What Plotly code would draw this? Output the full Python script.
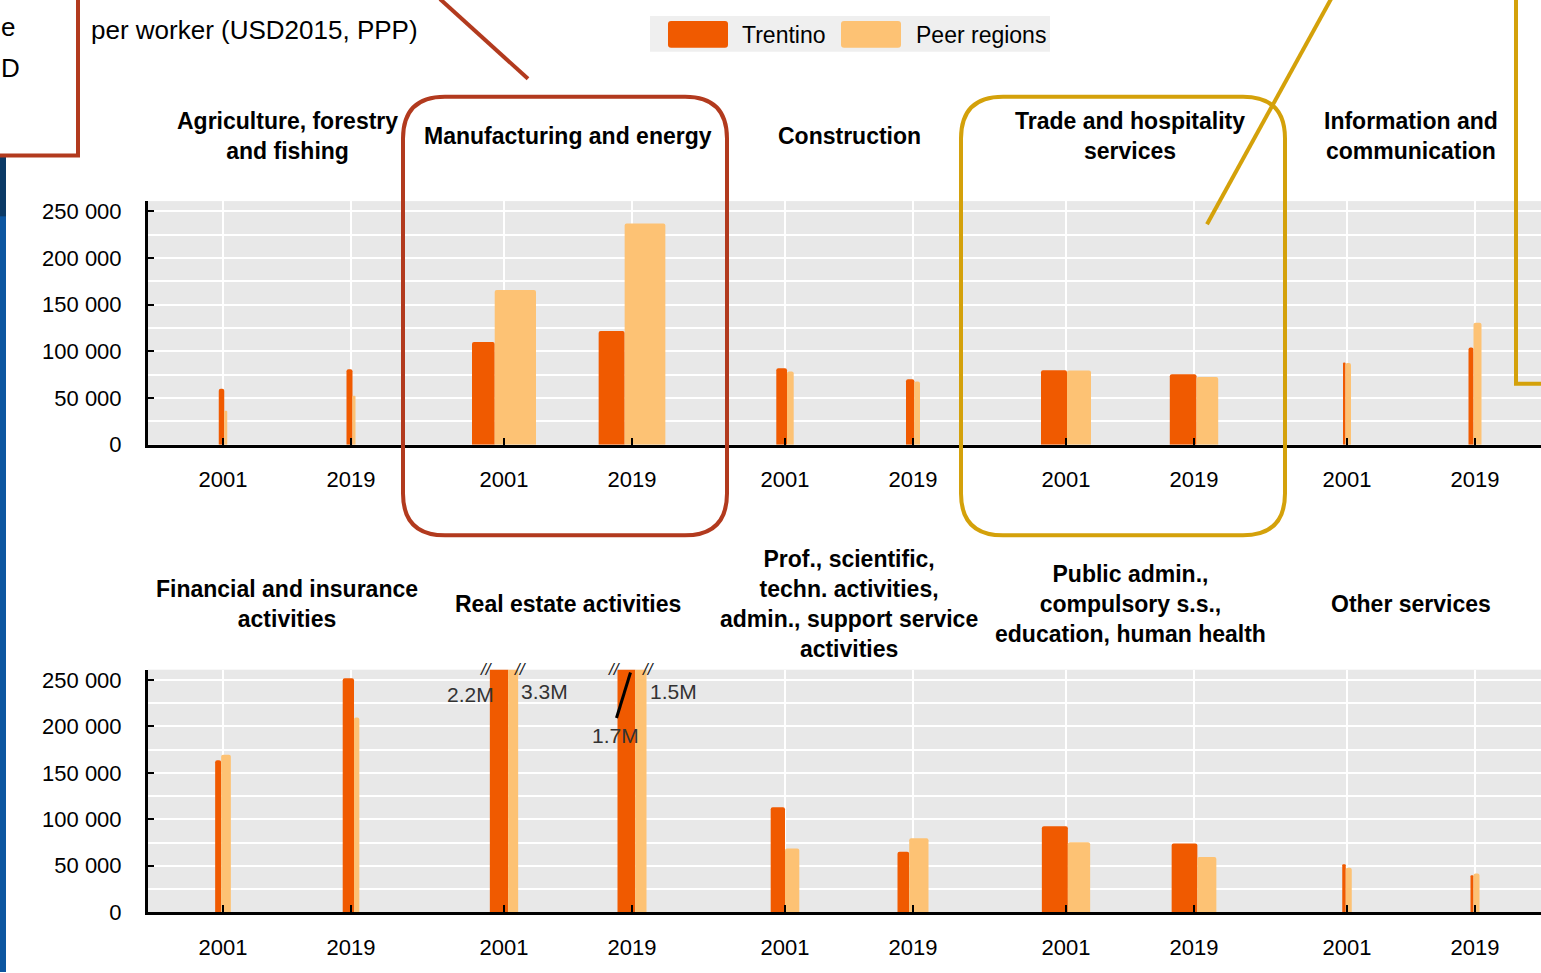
import plotly.graph_objects as go

W, H = 1541, 973          # design coordinates (reference picture)
FIG_H = 985               # page height that is captured and scaled to the 973 px picture

# ---------------- data ----------------
years = ["2001", "2019"]
sectors_top = [
    "Agriculture, forestry<br>and fishing",
    "Manufacturing and energy",
    "Construction",
    "Trade and hospitality<br>services",
    "Information and<br>communication",
]
sectors_bottom = [
    "Financial and insurance<br>activities",
    "Real estate activities",
    "Prof., scientific,<br>techn. activities,<br>admin., support service<br>activities",
    "Public admin.,<br>compulsory s.s.,<br>education, human health",
    "Other services",
]

# GVA per worker (USD2015, PPP); pairs (2001, 2019) per sector
trentino_top = [59800, 80900, 110000, 121800, 81900, 70200, 79800, 75500, 88000, 104000]
peer_top = [36300, 52300, 165600, 236900, 78300, 67700, 79500, 72600, 87500, 130700]
trentino_bottom = [163400, 251800, 2200000, 1700000, 113000, 65000, 92600, 74000, 51500, 39700]
peer_bottom = [169500, 209500, 3300000, 1500000, 68500, 79500, 75400, 59300, 47900, 41500]

# relative employment weight -> bar width
weight_trentino_top = [5.5, 6.0, 22.7, 26.0, 10.7, 8.3, 26.0, 26.7, 2.5, 5.0]
weight_peer_top = [3.0, 3.0, 41.3, 40.7, 6.7, 5.7, 24.0, 21.7, 5.5, 8.0]
weight_trentino_bottom = [6.0, 11.3, 18.3, 17.7, 14.3, 11.7, 26.0, 25.7, 3.5, 3.0]
weight_peer_bottom = [9.7, 5.3, 10.0, 11.3, 14.3, 19.3, 22.3, 19.0, 6.0, 6.0]

y_tickvals = [0, 50000, 100000, 150000, 200000, 250000]
Y_MAX = 261000

# ---------------- style ----------------
ORANGE = "#f05a00"
LIGHT = "#fdc274"
GRAY = "#e8e8e8"
RED = "#b23a1e"
GOLD = "#d4a10a"
FONT = "Liberation Sans, Arial, sans-serif"

PX_PER_UNIT = 128.0
PANEL_STEP = 281.0 / PX_PER_UNIT
X_LEFT_PX, X_TICK0_PX = 148.0, 223.0
XMIN = (X_LEFT_PX - X_TICK0_PX) / PX_PER_UNIT
XMAX = (W - X_TICK0_PX) / PX_PER_UNIT


def px(x):
    return x / W


def py(y):
    return 1 - y / H


xs = [i * PANEL_STEP + j for i in range(5) for j in range(2)]

fig = go.Figure()


def add_row(xa, ya, t_vals, p_vals, t_w, p_w):
    tw = [w / PX_PER_UNIT for w in t_w]
    pw = [w / PX_PER_UNIT for w in p_w]
    t_off = [-(a + b) / 2 for a, b in zip(tw, pw)]
    p_off = [o + a for o, a in zip(t_off, tw)]
    fig.add_trace(go.Bar(x=xs, y=t_vals, width=tw, offset=t_off, name="Trentino",
                         marker=dict(color=ORANGE, cornerradius=2, line_width=0),
                         xaxis=xa, yaxis=ya, showlegend=False))
    fig.add_trace(go.Bar(x=xs, y=p_vals, width=pw, offset=p_off, name="Peer regions",
                         marker=dict(color=LIGHT, cornerradius=2, line_width=0),
                         xaxis=xa, yaxis=ya, showlegend=False))
    return tw, pw, t_off, p_off


add_row("x", "y", trentino_top, peer_top, weight_trentino_top, weight_peer_top)
tw_b, pw_b, toff_b, poff_b = add_row("x2", "y2", trentino_bottom, peer_bottom,
                                     weight_trentino_bottom, weight_peer_bottom)

top_dom = [py(444), py(444 - Y_MAX / 250000 * 234)]
bot_dom = [py(913), py(913 - Y_MAX / 250000 * 233)]

xaxis_common = dict(
    range=[XMIN, XMAX], tickvals=xs, ticktext=years * 5,
    ticks="inside", ticklen=7, tickwidth=2, tickcolor="black",
    showline=True, linecolor="black", linewidth=3,
    showgrid=True, gridcolor="white", gridwidth=2, zeroline=False,
    tickfont=dict(family=FONT, size=22, color="black"),
    ticklabelstandoff=13, fixedrange=True,
)
yaxis_common = dict(
    range=[0, Y_MAX], tickvals=y_tickvals, tickformat=",d",
    ticks="inside", ticklen=6, tickwidth=2, tickcolor="black",
    showline=True, linecolor="black", linewidth=3,
    showgrid=True, gridcolor="white", gridwidth=2, zeroline=False,
    minor=dict(dtick=25000, showgrid=True, gridcolor="white", gridwidth=2),
    tickfont=dict(family=FONT, size=22, color="black"),
    ticklabelstandoff=19, fixedrange=True,
)

fig.update_layout(
    width=W, height=FIG_H, autosize=False, margin=dict(l=0, r=0, t=0, b=0, pad=0),
    paper_bgcolor="white", plot_bgcolor=GRAY,
    separators=". ", barmode="overlay", showlegend=False,
    xaxis=dict(domain=[px(X_LEFT_PX), 1], anchor="y", **xaxis_common),
    yaxis=dict(domain=top_dom, anchor="x", **yaxis_common),
    xaxis2=dict(domain=[px(X_LEFT_PX), 1], anchor="y2", **xaxis_common),
    yaxis2=dict(domain=bot_dom, anchor="x2", **yaxis_common),
)

annotations = []
shapes = []

# panel titles
for i, (t1, t2) in enumerate(zip(sectors_top, sectors_bottom)):
    cx = X_TICK0_PX + i * 281 + 64
    for txt, yc in ((t1, 134), (t2, 604)):
        annotations.append(dict(text="<b>%s</b>" % txt, x=px(cx), y=py(yc), xref="paper", yref="paper",
                                xanchor="center", yanchor="middle", showarrow=False,
                                font=dict(family=FONT, size=23, color="black")))

# truncated real estate bars: break marks and value labels
for k, j in enumerate((2, 3)):
    xc = xs[j]
    left = xc + toff_b[j]
    right = xc + poff_b[j] + pw_b[j]
    for xm, sh in ((left, -3), (right, 2)):
        annotations.append(dict(text="<i>//</i>", x=xm, y=Y_MAX, xref="x2", yref="y2", xshift=sh,
                                xanchor="center", yanchor="middle", showarrow=False,
                                font=dict(family=FONT, size=17, color="#222")))
    t_lbl = "%.1fM" % (trentino_bottom[j] / 1e6)
    p_lbl = "%.1fM" % (peer_bottom[j] / 1e6)
    if k == 0:
        annotations.append(dict(text=t_lbl, x=left, y=234000, xref="x2", yref="y2", xshift=6,
                                xanchor="right", yanchor="middle", showarrow=False,
                                font=dict(family=FONT, size=21, color="#333")))
    else:
        annotations.append(dict(text=t_lbl, x=left, y=190000, xref="x2", yref="y2", xshift=-2,
                                xanchor="center", yanchor="middle", showarrow=False,
                                font=dict(family=FONT, size=21, color="#333")))
        shapes.append(dict(type="line", xref="x2", yref="y2",
                           x0=left - 1 / PX_PER_UNIT, y0=209000,
                           x1=left + 13 / PX_PER_UNIT, y1=258000,
                           line=dict(color="black", width=3)))
    annotations.append(dict(text=p_lbl, x=right, y=237000, xref="x2", yref="y2", xshift=1,
                            xanchor="left", yanchor="middle", showarrow=False,
                            font=dict(family=FONT, size=21, color="#333")))


def rrect(x0, y0, x1, y1, r):
    pts = [("M", x0 + r, y0), ("L", x1 - r, y0), ("Q", x1, y0, x1, y0 + r), ("L", x1, y1 - r),
           ("Q", x1, y1, x1 - r, y1), ("L", x0 + r, y1), ("Q", x0, y1, x0, y1 - r),
           ("L", x0, y0 + r), ("Q", x0, y0, x0 + r, y0)]
    out = []
    for p in pts:
        cmd, vals = p[0], p[1:]
        coords = []
        for a, b in zip(vals[0::2], vals[1::2]):
            coords.append("%.5f,%.5f" % (px(a), py(b)))
        out.append(cmd + " " + " ".join(coords))
    return " ".join(out) + " Z"


# legend (custom)
shapes.append(dict(type="rect", xref="paper", yref="paper", x0=px(650), x1=px(1050), y0=py(50), y1=py(14),
                   fillcolor="#efefef", line=dict(width=0), layer="above"))
shapes.append(dict(type="path", xref="paper", yref="paper", path=rrect(668, 19, 728, 46, 3),
                   fillcolor=ORANGE, line=dict(width=0)))
shapes.append(dict(type="path", xref="paper", yref="paper", path=rrect(841, 19, 901, 46, 3),
                   fillcolor=LIGHT, line=dict(width=0)))
annotations.append(dict(text="Trentino", x=px(740), y=py(33), xref="paper", yref="paper",
                        xanchor="left", yanchor="middle", showarrow=False,
                        font=dict(family=FONT, size=23, color="black")))
annotations.append(dict(text="Peer regions", x=px(914), y=py(33), xref="paper", yref="paper",
                        xanchor="left", yanchor="middle", showarrow=False,
                        font=dict(family=FONT, size=23, color="black")))

# chart subtitle
annotations.append(dict(text="per worker (USD2015, PPP)", x=px(89), y=py(28), xref="paper", yref="paper",
                        xanchor="left", yanchor="middle", showarrow=False,
                        font=dict(family=FONT, size=26, color="black")))

# surrounding highlight decorations
shapes.append(dict(type="rect", xref="paper", yref="paper", x0=px(0), x1=px(6), y0=0, y1=py(155),
                   fillcolor="#0d56a0", line=dict(width=0)))
shapes.append(dict(type="rect", xref="paper", yref="paper", x0=px(0), x1=px(6), y0=py(215), y1=py(155),
                   fillcolor="#0b3a66", line=dict(width=0)))
shapes.append(dict(type="rect", xref="paper", yref="paper", x0=px(-6), x1=px(78), y0=py(154), y1=py(-6),
                   fillcolor="white", line=dict(color=RED, width=4)))
annotations.append(dict(text="e", x=px(0), y=py(25), xref="paper", yref="paper",
                        xanchor="left", yanchor="middle", showarrow=False, borderpad=0,
                        font=dict(family=FONT, size=26, color="black")))
annotations.append(dict(text="D", x=px(0), y=py(66), xref="paper", yref="paper",
                        xanchor="left", yanchor="middle", showarrow=False, borderpad=0,
                        font=dict(family=FONT, size=26, color="black")))
shapes.append(dict(type="line", xref="paper", yref="paper", x0=px(440), y0=py(-3), x1=px(528), y1=py(77),
                   line=dict(color=RED, width=4)))
shapes.append(dict(type="path", xref="paper", yref="paper", path=rrect(403, 95, 727, 535, 42),
                   line=dict(color=RED, width=4)))
shapes.append(dict(type="path", xref="paper", yref="paper", path=rrect(961, 95, 1285, 535, 42),
                   line=dict(color=GOLD, width=4)))
shapes.append(dict(type="line", xref="paper", yref="paper", x0=px(1207), y0=py(223), x1=px(1331), y1=py(-3),
                   line=dict(color=GOLD, width=4)))
shapes.append(dict(type="path", xref="paper", yref="paper",
                   path="M %.5f,%.5f L %.5f,%.5f L %.5f,%.5f" % (px(1516), py(-6), px(1516), py(383), px(1546), py(383)),
                   line=dict(color=GOLD, width=4)))

fig.update_layout(annotations=annotations, shapes=shapes)
fig.write_html(
    "out.html",
    config={"displayModeBar": False, "responsive": False},
    post_script=("document.documentElement.style.margin='0px';"
                 "document.body.style.margin='0px';document.body.style.padding='0px';"
                 "document.body.style.overflow='hidden';"),
)
